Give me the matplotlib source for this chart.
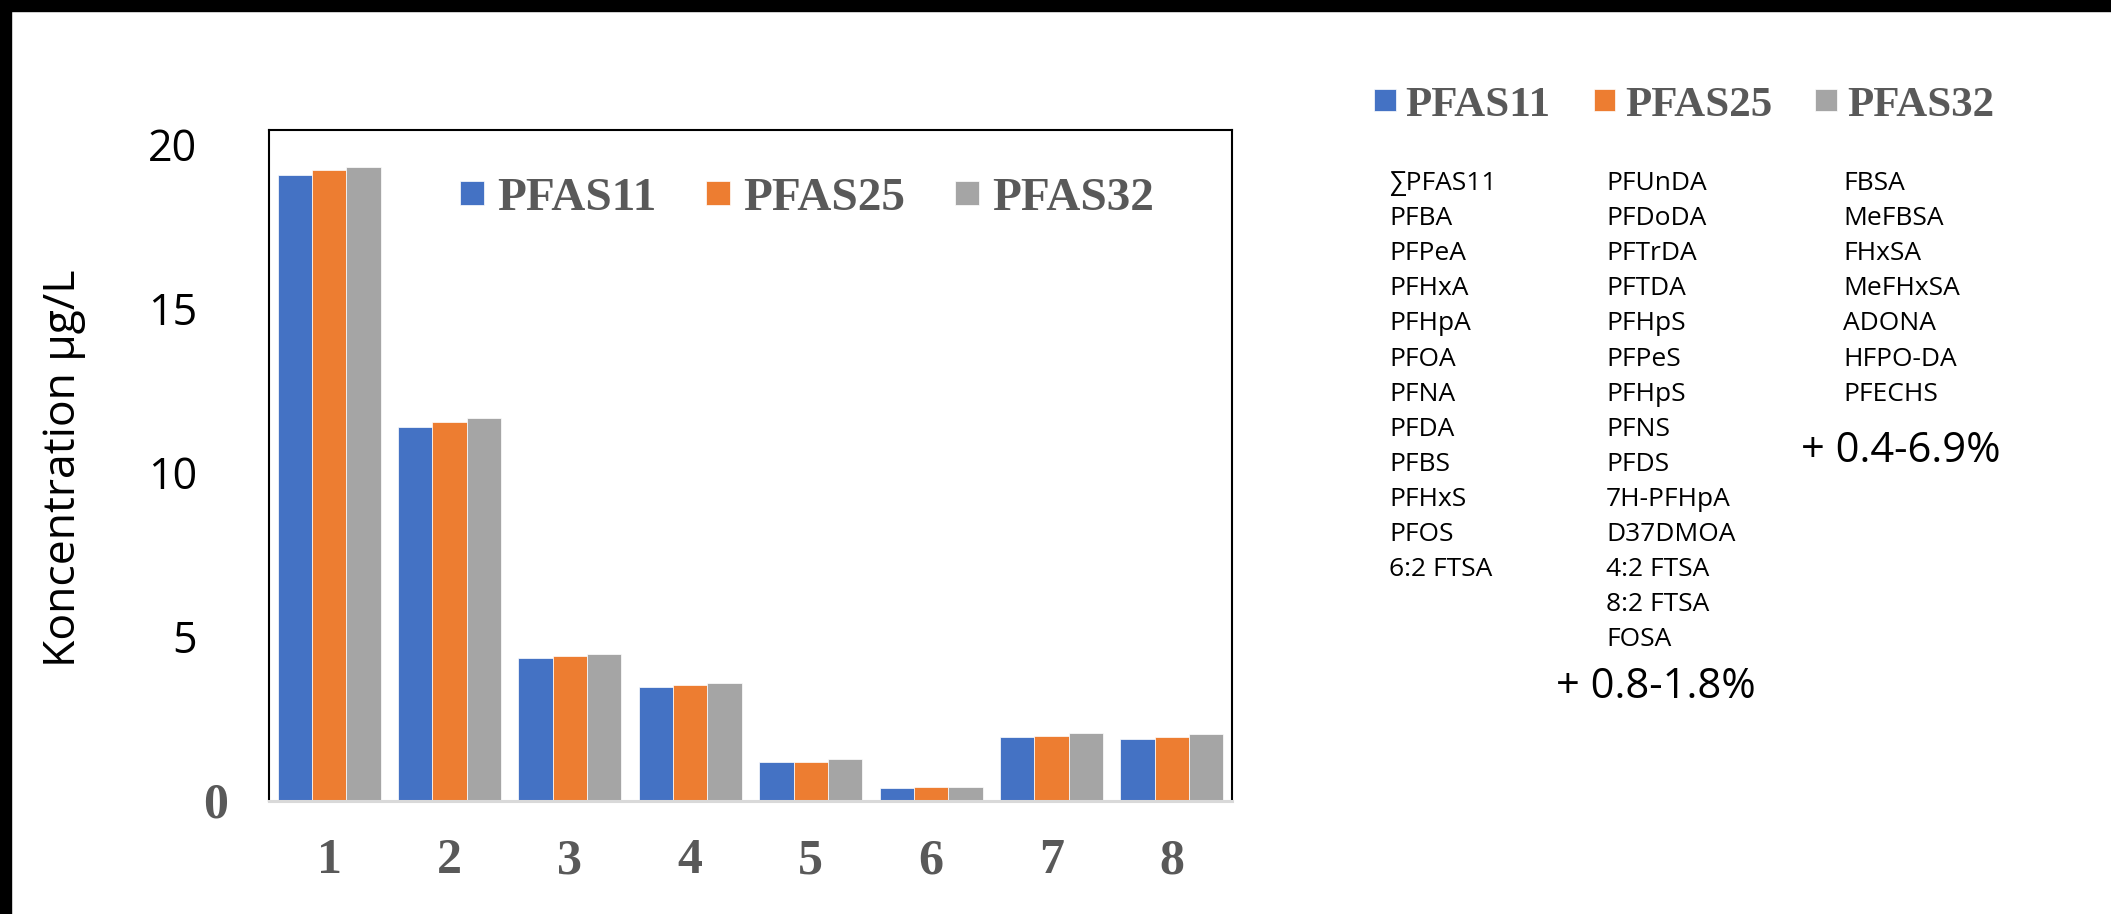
import matplotlib
matplotlib.use("Agg")
import matplotlib.pyplot as plt
import numpy as np
from matplotlib.patches import Rectangle
from matplotlib.transforms import offset_copy

# Koncentration (µg/L) per prov och summaparameter
samples = [1, 2, 3, 4, 5, 6, 7, 8]
pfas11 = [19.08, 11.39, 4.36, 3.49, 1.18, 0.41, 1.95, 1.90]
pfas25 = [19.23, 11.56, 4.42, 3.54, 1.20, 0.42, 1.98, 1.94]
pfas32 = [19.33, 11.69, 4.49, 3.61, 1.28, 0.44, 2.06, 2.03]
series_names = ["PFAS11", "PFAS25", "PFAS32"]
colors = ["#4472C4", "#ED7D31", "#A5A5A5"]
y_ticks = [0, 5, 10, 15, 20]

# Ämnen som ingår i respektive summa
col_pfas11 = ["∑PFAS11", "PFBA", "PFPeA", "PFHxA", "PFHpA", "PFOA", "PFNA",
              "PFDA", "PFBS", "PFHxS", "PFOS", "6:2 FTSA"]
col_pfas25 = ["PFUnDA", "PFDoDA", "PFTrDA", "PFTDA", "PFHpS", "PFPeS", "PFHpS",
              "PFNS", "PFDS", "7H-PFHpA", "D37DMOA", "4:2 FTSA", "8:2 FTSA", "FOSA"]
col_pfas32 = ["FBSA", "MeFBSA", "FHxSA", "MeFHxSA", "ADONA", "HFPO-DA", "PFECHS"]
extra_25 = "+ 0.8-1.8%"
extra_32 = "+ 0.4-6.9%"

W, H = 2111, 914
GRAY_TXT = "#595959"
SANS = ["Open Sans", "DejaVu Sans"]
SERIF_BOLD = dict(family="Liberation Serif", weight="bold")

fig = plt.figure(figsize=(W / 100, H / 100), dpi=100)
fig.patch.set_facecolor("white")

# svart ram upptill och till vänster
fig.add_artist(Rectangle((0, 1 - 11 / H), 1, 11 / H, transform=fig.transFigure,
                         color="black", zorder=10))
fig.add_artist(Rectangle((0, 0), 11 / W, 1, transform=fig.transFigure,
                         color="black", zorder=10))

ax = fig.add_axes([269 / W, (H - 801) / H, 963 / W, 671 / H])

x = np.array(samples, dtype=float)
w = 0.285
bars = []
for i, (vals, c) in enumerate(zip([pfas11, pfas25, pfas32], colors)):
    b = ax.bar(x + (i - 1) * w, vals, width=w, color=c, edgecolor="white",
               linewidth=0.5, label=series_names[i], zorder=2)
    bars.append(b)

ax.set_xlim(0.5, 8.5)
ax.set_ylim(0, 20.46)
ax.set_xticks([])
ax.set_yticks([])

for side in ["left", "top", "right"]:
    ax.spines[side].set_color("black")
    ax.spines[side].set_linewidth(1.5)
ax.spines["bottom"].set_color("#D9D9D9")
ax.spines["bottom"].set_linewidth(2.2)
ax.spines["bottom"].set_zorder(3)

# axeltexter
xt = offset_copy(ax.get_xaxis_transform(), fig=fig, x=0, y=-72, units="dots")
for s in samples:
    ax.text(s, 0, str(s), transform=xt, ha="center", va="baseline",
            fontsize=36, color=GRAY_TXT, clip_on=False, **SERIF_BOLD)

yt = offset_copy(ax.get_yaxis_transform(), fig=fig, x=-72, y=-16, units="dots")
yt0 = offset_copy(ax.get_yaxis_transform(), fig=fig, x=-41, y=-16, units="dots")
for v in y_ticks:
    if v == 0:
        ax.text(0, v, "0", transform=yt0, ha="right", va="baseline",
                fontsize=36, color=GRAY_TXT, clip_on=False, **SERIF_BOLD)
    else:
        ax.text(0, v, str(v), transform=yt, ha="right", va="baseline",
                fontsize=31, color="black", family=SANS, clip_on=False)

fig.text(64 / W, 1 - 468 / H, "Koncentration µg/L", rotation=90, ha="center",
         va="center", fontsize=32, family=SANS, color="black")

# teckenförklaring i diagrammet (kvadratiska symboler)
ax.legend(handles=bars, loc="center left",
          bbox_to_anchor=(460 / W, 1 - 199 / H), bbox_transform=fig.transFigure,
          ncol=3, frameon=False, borderpad=0, borderaxespad=0,
          handlelength=0.51, handleheight=0.408, handletextpad=0.28,
          columnspacing=1.05, prop=dict(size=34, **SERIF_BOLD),
          labelcolor=GRAY_TXT)

# teckenförklaring till höger
fig.legend(handles=bars, loc="center left",
           bbox_to_anchor=(1374 / W, 1 - 105.5 / H), bbox_transform=fig.transFigure,
           ncol=3, frameon=False, borderpad=0, borderaxespad=0,
           handlelength=0.5, handleheight=0.392, handletextpad=0.23,
           columnspacing=1.0, prop=dict(size=31, **SERIF_BOLD),
           labelcolor=GRAY_TXT)

# listor med ingående ämnen
row0, dy = 190, 35.1
for col_x, names in [(1389, col_pfas11), (1606, col_pfas25), (1843, col_pfas32)]:
    for k, name in enumerate(names):
        fig.text(col_x / W, 1 - (row0 + k * dy) / H, name, ha="left",
                 va="baseline", fontsize=19, family=SANS, color="black")

fig.text(1556 / W, 1 - 698 / H, extra_25, ha="left", va="baseline",
         fontsize=30, family=SANS, color="black")
fig.text(1801 / W, 1 - 462 / H, extra_32, ha="left", va="baseline",
         fontsize=30, family=SANS, color="black")

fig.savefig("out.png", dpi=100)
